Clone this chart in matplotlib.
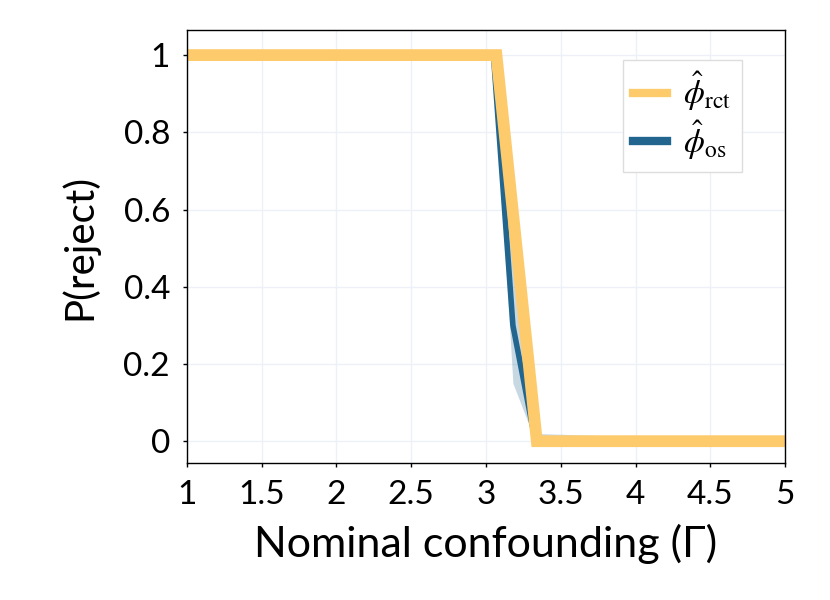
import matplotlib
matplotlib.use("Agg")
import matplotlib.pyplot as plt

# values
rct_gamma = [1.0, 3.07, 3.34, 5.0]
rct_reject = [1.0, 1.0, 0.0, 0.0]

os_gamma = [1.0, 3.05, 3.18, 3.33, 5.0]
os_reject = [1.0, 1.0, 0.30, 0.0, 0.0]
os_lower = [1.0, 1.0, 0.15, 0.0, 0.0]
os_upper = [1.0, 1.0, 0.45, 0.02, 0.0]

xticks = [1, 1.5, 2, 2.5, 3, 3.5, 4, 4.5, 5]
xtick_labels = ["1", "1.5", "2", "2.5", "3", "3.5", "4", "4.5", "5"]
yticks = [0, 0.2, 0.4, 0.6, 0.8, 1]
ytick_labels = ["0", "0.2", "0.4", "0.6", "0.8", "1"]

orange = "#FECB6C"
blue = "#22668F"

plt.rcParams["font.family"] = ["Lato", "DejaVu Sans"]
plt.rcParams["mathtext.fontset"] = "stix"

fig = plt.figure(figsize=(8.3, 6), dpi=100)
ax = fig.add_axes([0.225, 0.228, 0.721, 0.722])

ax.grid(True, color="#EEF0F7", linewidth=1.0)
ax.set_axisbelow(True)

ax.fill_between(os_gamma, os_lower, os_upper, color=blue, alpha=0.25, linewidth=0)
ax.plot(os_gamma, os_reject, color=blue, linewidth=4, label=r"$\hat{\phi}_{\mathrm{os}}$")
ax.plot(rct_gamma, rct_reject, color=orange, linewidth=8.5, label=r"$\hat{\phi}_{\mathrm{rct}}$",
        solid_joinstyle="miter")

ax.set_xlim(1, 5)
ax.set_ylim(-0.057, 1.065)
ax.set_xticks(xticks)
ax.set_xticklabels(xtick_labels)
ax.set_yticks(yticks)
ax.set_yticklabels(ytick_labels)
ax.tick_params(labelsize=24, length=3, width=1, direction="out", pad=9)

ax.set_xlabel("Nominal confounding (Γ)", fontsize=31, labelpad=10)
ax.set_ylabel("P(reject)", fontsize=29, labelpad=18)

handles, labels = ax.get_legend_handles_labels()
leg = ax.legend(handles[::-1], labels[::-1], loc="upper right", bbox_to_anchor=(0.955, 0.97),
                fontsize=24, fancybox=False, framealpha=1, edgecolor="#DDDDDD",
                handlelength=1.0, handletextpad=0.5, borderpad=0.3, labelspacing=0.15)
for line in leg.get_lines():
    line.set_linewidth(6)

for s in ax.spines.values():
    s.set_linewidth(1)

fig.savefig("out.png", dpi=100)
